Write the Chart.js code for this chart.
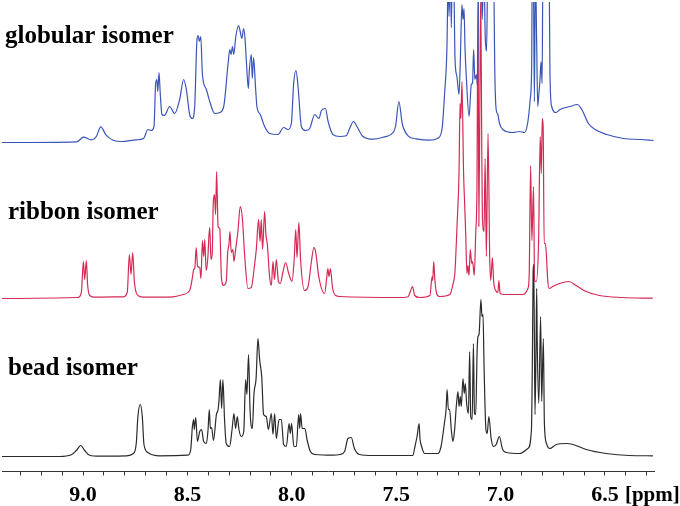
<!DOCTYPE html>
<html>
<head>
<meta charset="utf-8">
<title>isomer spectra</title>
<script src="https://cdn.jsdelivr.net/npm/chart.js@4"></script>
<style>
  html, body { margin: 0; padding: 0; background: #fff; }
</style>
</head>
<body>
<canvas id="chart" width="680" height="506"></canvas>
<script>
// peak traces: [ppm, height above that trace's baseline]
const globularTrace = [[9.388,0],[9.03,0.7],[8.997,5.3],[8.96,2.7],[8.936,6],[8.915,15.7],[8.89,7.7],[8.856,2.3],[8.816,1],[8.745,2.7],[8.71,4],[8.689,13],[8.673,12],[8.66,16],[8.652,59],[8.646,63],[8.642,51],[8.636,70],[8.63,49],[8.622,28],[8.61,27],[8.585,36],[8.561,29],[8.537,43],[8.518,63],[8.505,53],[8.489,28],[8.476,24],[8.465,36],[8.454,103],[8.448,107],[8.443,101],[8.436,106],[8.428,68],[8.409,53],[8.393,41],[8.369,29],[8.345,30],[8.326,36],[8.305,79],[8.297,93],[8.291,88],[8.284,96],[8.278,88],[8.268,106],[8.255,117],[8.249,113],[8.239,104],[8.231,114],[8.224,104],[8.218,83],[8.208,54],[8.204,70],[8.194,88],[8.189,64],[8.183,85],[8.173,53],[8.167,36],[8.151,28],[8.13,16],[8.106,9],[8.066,8],[8.039,15],[8.018,13],[8.002,19],[7.991,59],[7.98,72],[7.97,56],[7.954,16],[7.934,12],[7.914,14],[7.89,28],[7.87,24],[7.858,32],[7.839,34],[7.826,21],[7.803,8],[7.77,6],[7.739,6.7],[7.723,14],[7.704,21],[7.688,16],[7.659,6],[7.611,3.3],[7.563,5.3],[7.515,10],[7.503,16],[7.487,41],[7.471,19],[7.443,6.7],[7.404,3.7],[7.34,2.3],[7.3,4.3],[7.28,14],[7.268,49],[7.257,93],[7.25,175],[7.247,126],[7.24,175],[7.236,115],[7.231,175],[7.225,175],[7.218,83],[7.209,66],[7.199,48],[7.193,80],[7.185,138],[7.18,123],[7.175,134],[7.17,93],[7.164,66],[7.151,26],[7.14,58],[7.134,60],[7.129,93],[7.123,63],[7.116,68],[7.11,56],[7.104,175],[7.093,175],[7.088,123],[7.08,175],[7.073,104],[7.067,91],[7.061,175],[7.034,175],[7.027,65],[7.021,33],[7.013,28],[7.005,19],[6.989,13],[6.941,10],[6.909,11],[6.885,10],[6.869,21],[6.858,43],[6.851,76],[6.848,175],[6.843,175],[6.838,41],[6.833,175],[6.827,100],[6.822,36],[6.816,50],[6.811,63],[6.806,81],[6.801,59],[6.797,175],[6.768,175],[6.763,66],[6.755,36],[6.734,30],[6.715,33],[6.667,36],[6.632,38],[6.611,33],[6.579,19],[6.547,13],[6.491,8],[6.411,4],[6.331,3],[6.267,2]];

const ribbonTrace = [[9.388,0],[9.024,1],[9.008,6],[8.998,37],[8.992,19],[8.984,38],[8.978,14],[8.968,3],[8.944,1.3],[8.808,1.7],[8.788,6],[8.778,44],[8.77,24],[8.762,46],[8.754,17],[8.741,4],[8.713,1.3],[8.569,1.7],[8.52,4],[8.489,8],[8.476,21],[8.47,29],[8.464,31],[8.458,51],[8.451,32],[8.441,31],[8.435,20],[8.428,58],[8.422,42],[8.417,59],[8.41,28],[8.402,41],[8.397,62],[8.393,71],[8.387,39],[8.381,45],[8.376,96],[8.37,104],[8.365,84],[8.36,127],[8.353,72],[8.345,70],[8.337,21],[8.326,13],[8.314,17],[8.307,46],[8.301,54],[8.296,67],[8.29,46],[8.282,49],[8.277,37],[8.269,49],[8.258,67],[8.247,92],[8.237,81],[8.226,44],[8.21,10],[8.194,11],[8.178,34],[8.17,49],[8.159,79],[8.152,57],[8.146,79],[8.14,49],[8.13,87],[8.124,64],[8.117,54],[8.106,21],[8.098,13],[8.09,37],[8.083,19],[8.074,39],[8.064,17],[8.055,15],[8.042,27],[8.029,36],[8.016,26],[7.999,17],[7.988,41],[7.981,69],[7.975,41],[7.966,76],[7.958,39],[7.939,8],[7.922,12],[7.906,37],[7.894,51],[7.886,47],[7.87,21],[7.843,5],[7.83,26],[7.827,30],[7.822,22],[7.815,30],[7.805,11],[7.79,3],[7.77,2],[7.467,1],[7.443,1.7],[7.432,7],[7.422,12],[7.411,3],[7.387,1],[7.338,3],[7.328,22],[7.325,18],[7.32,37],[7.315,20],[7.306,5],[7.292,2],[7.243,4],[7.227,15],[7.219,25],[7.208,75],[7.199,125],[7.194,195],[7.19,180],[7.185,217],[7.177,125],[7.172,95],[7.167,65],[7.161,25],[7.156,33],[7.151,23],[7.145,49],[7.138,35],[7.134,37],[7.126,23],[7.119,65],[7.113,112],[7.108,305],[7.104,72],[7.099,200],[7.095,305],[7.09,150],[7.087,82],[7.079,67],[7.074,140],[7.068,42],[7.06,165],[7.052,42],[7.047,18],[7.039,41],[7.033,17],[7.02,7],[7.013,6],[7.008,18],[7.002,5],[6.981,4],[6.893,4],[6.869,10],[6.863,22],[6.856,133],[6.85,58],[6.842,112],[6.837,18],[6.829,17],[6.818,55],[6.81,162],[6.805,125],[6.8,180],[6.796,172],[6.791,55],[6.785,55],[6.779,38],[6.774,18],[6.766,10],[6.75,12],[6.718,15],[6.673,17],[6.638,13],[6.59,7],[6.527,3],[6.415,1],[6.271,0.3]];

const beadTrace = [[9.388,0],[9.112,0],[9.056,1.7],[9.032,6],[9.011,11],[8.992,6],[8.968,1.3],[8.92,0.3],[8.792,0.7],[8.76,2.7],[8.745,13],[8.737,40],[8.726,52],[8.716,40],[8.708,12],[8.689,4],[8.633,0.7],[8.497,1.3],[8.484,7],[8.476,30],[8.47,37],[8.467,27],[8.46,39],[8.452,15],[8.441,25],[8.432,27],[8.422,15],[8.409,13],[8.401,27],[8.395,47],[8.39,28],[8.384,29],[8.375,16],[8.361,42],[8.353,47],[8.349,55],[8.342,77],[8.336,48],[8.33,77],[8.322,37],[8.314,13],[8.298,10],[8.286,27],[8.277,43],[8.269,28],[8.261,40],[8.253,27],[8.242,20],[8.23,25],[8.221,77],[8.215,62],[8.207,102],[8.2,47],[8.189,28],[8.181,63],[8.171,78],[8.162,118],[8.154,97],[8.144,80],[8.135,42],[8.122,40],[8.112,27],[8.098,43],[8.09,22],[8.082,43],[8.074,18],[8.061,37],[8.05,37],[8.039,12],[8.026,10],[8.013,33],[8.007,23],[8.001,33],[7.99,10],[7.978,10],[7.967,42],[7.962,28],[7.958,43],[7.95,28],[7.937,28],[7.927,17],[7.911,5],[7.89,2],[7.802,1.3],[7.77,2],[7.747,5],[7.731,18],[7.715,19],[7.7,8],[7.676,2],[7.611,1],[7.42,1],[7.41,10],[7.4,20],[7.39,33],[7.386,18],[7.378,10],[7.364,3],[7.3,3],[7.285,10],[7.269,33],[7.261,47],[7.256,67],[7.25,47],[7.244,47],[7.236,27],[7.228,15],[7.22,27],[7.212,50],[7.204,65],[7.199,50],[7.193,60],[7.188,50],[7.18,78],[7.174,63],[7.169,73],[7.162,52],[7.154,43],[7.148,105],[7.143,40],[7.136,37],[7.13,113],[7.125,43],[7.119,42],[7.112,107],[7.108,120],[7.103,122],[7.094,157],[7.089,140],[7.084,142],[7.079,90],[7.07,27],[7.064,23],[7.056,40],[7.045,18],[7.034,10],[7.021,12],[7.006,20],[6.99,7],[6.971,4],[6.908,3],[6.869,8],[6.852,27],[6.847,110],[6.844,185],[6.841,192],[6.838,120],[6.835,42],[6.83,110],[6.827,168],[6.824,110],[6.817,53],[6.808,140],[6.803,55],[6.795,118],[6.79,33],[6.78,13],[6.765,8],[6.733,12],[6.685,13],[6.653,12],[6.59,7],[6.494,3],[6.383,1],[6.27,0.7]];

const tickStep = 0.1;
const labelStep = 5; // every fifth minor tick gets a number

const globularBase = 329;
const ribbonBase = 173;
const beadBase = 15;

function trace(rows, base) {
  return rows.map(r => ({ x: r[0], y: r[1] + base }));
}

// series names and the [ppm] unit sit inside the plot, so draw them with the axis
const textPlugin = {
  id: "isomerText",
  afterDraw(c) {
    const ctx = c.ctx;
    ctx.save();
    ctx.fillStyle = "#000";
    ctx.textBaseline = "alphabetic";
    ctx.font = 'bold 25px "Liberation Serif"';
    ctx.fillText("globular isomer", 5, 43);
    ctx.fillText("ribbon isomer", 8, 219);
    ctx.fillText("bead isomer", 8, 375);
    ctx.font = 'bold 21px "Liberation Serif"';
    ctx.fillText("[ppm]", c.scales.x.getPixelForValue(6.5) + 20, 501);
    ctx.restore();
  }
};

const chart = new Chart(document.getElementById("chart"), {
  type: "line",
  data: {
    datasets: [
      { label: "globular isomer", data: trace(globularTrace, globularBase), borderColor: "#3a55b8" },
      { label: "ribbon isomer", data: trace(ribbonTrace, ribbonBase), borderColor: "#d62a55" },
      { label: "bead isomer", data: trace(beadTrace, beadBase), borderColor: "#2b2b2b" }
    ]
  },
  options: {
    responsive: false,
    animation: false,
    events: [],
    elements: {
      line: { borderWidth: 1.2, cubicInterpolationMode: "monotone" },
      point: { radius: 0 }
    },
    layout: { padding: { left: 2, right: 26, top: 2, bottom: 0 } },
    plugins: {
      legend: { display: false },
      title: { display: false },
      tooltip: { enabled: false }
    },
    scales: {
      x: {
        type: "linear",
        reverse: true,
        min: 6.265,
        max: 9.388,
        afterFit: function (scale) { scale.height = 34.5; },
        border: { color: "#333", width: 1 },
        grid: { drawOnChartArea: false, tickLength: 4, tickColor: "#333" },
        ticks: {
          stepSize: tickStep,
          includeBounds: false,
          autoSkip: false,
          maxRotation: 0,
          padding: 7,
          color: "#000",
          font: { family: '"Liberation Serif"', size: 22, weight: "bold" },
          callback: function (v) {
            return Math.round(v * 10) % labelStep === 0 ? v.toFixed(1) : "";
          }
        }
      },
      y: {
        display: false,
        min: 0,
        max: 469.5
      }
    }
  },
  plugins: [textPlugin]
});
</script>
</body>
</html>
